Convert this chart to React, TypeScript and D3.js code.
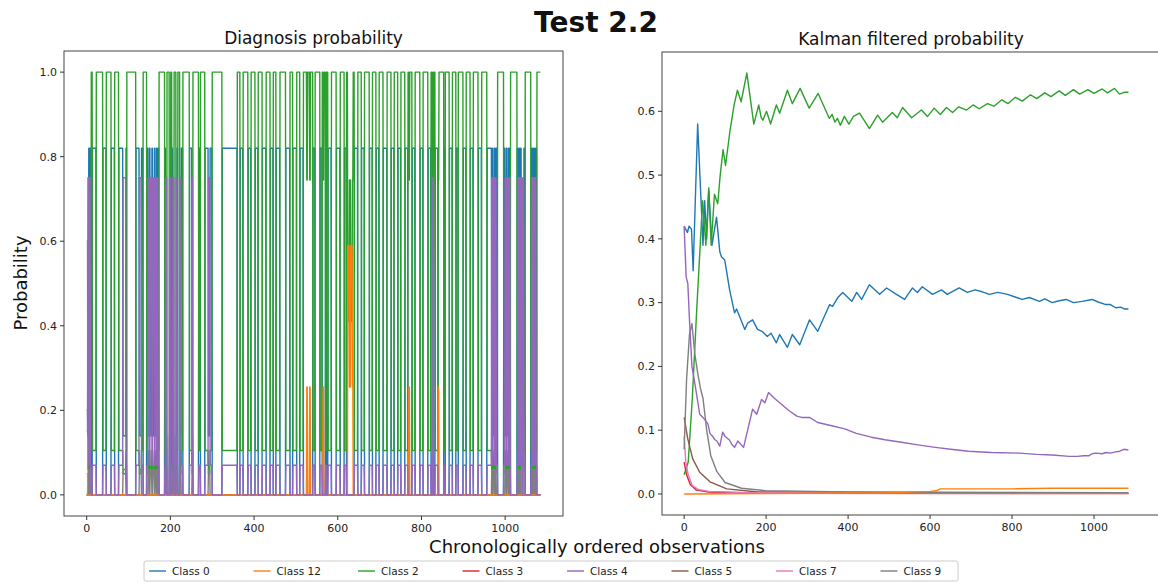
import React from 'react';
import * as d3 from 'd3';

// ---- data ----
const classNames = ['Class 0', 'Class 12', 'Class 2', 'Class 3', 'Class 4', 'Class 5', 'Class 7', 'Class 9'];
const classColors = ['#1f77b4', '#ff7f0e', '#2ca02c', '#d62728', '#9467bd', '#8c564b', '#e377c2', '#7f7f7f'];
// order the lines were plotted in (indices into classNames)
const drawOrder = [0, 2, 3, 5, 6, 7, 1, 4];

const nObs = 1085;

// diagnosis states (probability per class, same order as classNames)
const stateProbs: Record<string, number[]> = {
  G: [0, 0, 1.0, 0, 0, 0, 0, 0],
  B: [0.82, 0, 0.105, 0, 0.07, 0, 0, 0],
  P: [0.14, 0, 0.05, 0, 0.75, 0, 0, 0.06],
  K: [0.2, 0, 0, 0, 0.15, 0, 0.05, 0.6],
  O: [0, 0.255, 0.745, 0, 0, 0, 0, 0],
  E: [0, 0.59, 0.41, 0, 0, 0, 0, 0],
};

// run-length list of diagnosed state: [first observation, state]
const diagRuns: [number, string][] = [
  [0, 'K'], [3, 'P'], [5, 'B'], [7, 'P'], [9, 'B'],
  [11, 'G'], [14, 'B'], [23, 'G'], [39, 'B'], [47, 'G'], [59, 'B'],
  [67, 'G'], [77, 'B'], [87, 'P'], [94, 'B'],
  [96, 'G'], [118, 'B'], [126, 'P'], [131, 'B'],
  [135, 'G'], [144, 'B'], [147, 'P'], [150, 'B'], [152, 'P'], [156, 'B'], [158, 'P'], [162, 'B'], [164, 'P'], [167, 'B'], [169, 'P'], [171, 'B'],
  [173, 'G'], [187, 'B'], [189, 'P'], [192, 'G'], [198, 'P'], [201, 'G'], [204, 'B'], [206, 'P'], [209, 'G'], [214, 'P'], [216, 'B'], [218, 'G'], [223, 'P'], [226, 'B'],
  [230, 'G'], [246, 'B'], [252, 'P'], [254, 'G'], [268, 'B'],
  [272, 'G'], [283, 'B'], [291, 'P'], [295, 'B'],
  [300, 'G'], [324, 'B'],
  [360, 'G'], [367, 'B'], [374, 'G'], [386, 'B'], [393, 'G'], [403, 'B'], [410, 'G'], [420, 'B'],
  [429, 'G'], [439, 'B'], [446, 'G'], [453, 'B'], [462, 'G'], [476, 'B'], [486, 'G'], [493, 'B'],
  [502, 'G'], [510, 'B'],
  [518, 'G'], [526, 'O'], [528, 'G'], [533, 'O'], [535, 'G'], [541, 'B'],
  [546, 'G'], [558, 'B'],
  [563, 'G'], [565, 'O'], [567, 'G'], [571, 'B'], [573, 'G'], [577, 'B'],
  [585, 'G'], [597, 'B'], [606, 'G'], [616, 'B'],
  [621, 'G'], [624, 'E'], [628, 'O'], [631, 'E'], [635, 'O'], [637, 'G'], [640, 'B'],
  [648, 'G'], [657, 'B'], [664, 'G'], [676, 'B'], [683, 'G'], [692, 'B'], [699, 'G'], [709, 'B'],
  [718, 'G'], [728, 'B'], [735, 'G'], [744, 'B'], [751, 'G'], [761, 'B'],
  [768, 'G'], [770, 'O'], [772, 'G'], [778, 'B'],
  [785, 'G'], [797, 'B'], [804, 'G'], [816, 'B'],
  [823, 'G'], [827, 'P'], [829, 'G'], [833, 'B'],
  [840, 'O'], [842, 'G'], [854, 'B'],
  [857, 'G'], [867, 'B'], [874, 'G'], [883, 'B'], [888, 'G'], [900, 'B'], [907, 'G'], [917, 'B'],
  [924, 'G'], [936, 'B'], [944, 'G'], [957, 'B'],
  [968, 'P'], [970, 'B'], [972, 'P'], [975, 'B'], [977, 'P'], [979, 'B'],
  [982, 'G'], [997, 'B'],
  [1000, 'P'], [1003, 'B'], [1005, 'P'], [1008, 'B'], [1010, 'P'], [1012, 'B'],
  [1013, 'G'], [1029, 'B'],
  [1031, 'P'], [1033, 'B'], [1035, 'P'], [1037, 'B'], [1039, 'P'], [1041, 'O'], [1043, 'P'], [1045, 'B'],
  [1048, 'G'], [1062, 'B'],
  [1064, 'P'], [1066, 'B'], [1068, 'P'], [1070, 'B'], [1072, 'P'], [1074, 'B'],
  [1076, 'G'],
];

// Kalman filtered probability, [observation, probability]
const kalmanClass0: [number, number][] = [
  [0, 0.42], [8, 0.41], [12, 0.42], [18, 0.415], [22, 0.35], [33, 0.58], [46, 0.39], [50, 0.46], [55, 0.40], [60, 0.476],
  [68, 0.39], [79, 0.434], [87, 0.38], [91, 0.372], [99, 0.367], [111, 0.32], [123, 0.284], [128, 0.29], [148, 0.258],
  [155, 0.268], [167, 0.273], [179, 0.258], [190, 0.255], [203, 0.247], [212, 0.252], [225, 0.237], [233, 0.25],
  [252, 0.23], [264, 0.25], [282, 0.234], [306, 0.273], [326, 0.255], [355, 0.297], [362, 0.294], [375, 0.308],
  [387, 0.316], [409, 0.302], [421, 0.316], [433, 0.305], [452, 0.328], [477, 0.313], [494, 0.323], [518, 0.313],
  [538, 0.305], [557, 0.323], [569, 0.316], [581, 0.325], [606, 0.313], [628, 0.32], [642, 0.313], [671, 0.323],
  [691, 0.316], [710, 0.32], [727, 0.317], [745, 0.313], [765, 0.316], [789, 0.313], [811, 0.308], [825, 0.305],
  [842, 0.308], [867, 0.302], [880, 0.306], [898, 0.30], [915, 0.303], [932, 0.305], [950, 0.30], [971, 0.302],
  [995, 0.305], [1010, 0.301], [1029, 0.297], [1040, 0.297], [1053, 0.292], [1065, 0.293], [1075, 0.29], [1084, 0.29],
];
const kalmanClass12: [number, number][] = [
  [0, 0.0], [300, 0.001], [500, 0.002], [600, 0.004], [615, 0.005], [625, 0.008], [700, 0.008], [800, 0.008],
  [900, 0.009], [1084, 0.009],
];
const kalmanClass2: [number, number][] = [
  [0, 0.03], [10, 0.05], [20, 0.15], [30, 0.28], [40, 0.40], [45, 0.46], [53, 0.39], [60, 0.48], [66, 0.39], [74, 0.47],
  [82, 0.455], [88, 0.5], [95, 0.54], [101, 0.515], [112, 0.57], [122, 0.61], [130, 0.633], [139, 0.615], [153, 0.66],
  [170, 0.58], [178, 0.60], [182, 0.61], [188, 0.59], [192, 0.586], [201, 0.60], [211, 0.58], [225, 0.61], [233, 0.597],
  [252, 0.633], [264, 0.612], [283, 0.636], [305, 0.605], [327, 0.628], [354, 0.589], [361, 0.595], [368, 0.583],
  [374, 0.589], [381, 0.578], [391, 0.592], [402, 0.580], [413, 0.592], [428, 0.597], [452, 0.573], [472, 0.594],
  [484, 0.583], [508, 0.598], [520, 0.590], [533, 0.606], [555, 0.59], [579, 0.602], [594, 0.592], [610, 0.605],
  [625, 0.595], [640, 0.606], [655, 0.598], [670, 0.607], [689, 0.602], [705, 0.61], [720, 0.604], [740, 0.612],
  [756, 0.608], [775, 0.618], [790, 0.612], [808, 0.622], [825, 0.616], [845, 0.626], [860, 0.62], [880, 0.629],
  [895, 0.623], [915, 0.632], [930, 0.625], [950, 0.634], [965, 0.627], [985, 0.634], [1000, 0.628], [1020, 0.635],
  [1033, 0.629], [1050, 0.636], [1062, 0.627], [1075, 0.63], [1084, 0.63],
];
const kalmanClass3: [number, number][] = [
  [0, 0.05], [6, 0.03], [15, 0.015], [30, 0.006], [60, 0.003], [200, 0.001], [1084, 0.0005],
];
const kalmanClass4: [number, number][] = [
  [0, 0.42], [5, 0.34], [9, 0.33], [14, 0.26], [19, 0.2], [27, 0.17], [38, 0.125], [46, 0.12], [58, 0.11], [63, 0.095],
  [70, 0.09], [75, 0.085], [80, 0.083], [87, 0.075], [94, 0.097], [100, 0.09], [110, 0.085], [116, 0.078], [123, 0.073],
  [131, 0.083], [138, 0.078], [145, 0.073], [155, 0.1], [167, 0.133], [177, 0.125], [189, 0.148], [197, 0.143],
  [206, 0.159], [220, 0.15], [233, 0.143], [257, 0.13], [275, 0.122], [287, 0.12], [306, 0.12], [326, 0.112],
  [360, 0.107], [392, 0.102], [420, 0.095], [457, 0.089], [490, 0.085], [530, 0.081], [570, 0.077], [613, 0.073],
  [650, 0.07], [694, 0.067], [750, 0.065], [818, 0.064], [860, 0.062], [898, 0.061], [940, 0.059], [959, 0.059],
  [975, 0.06], [988, 0.06], [995, 0.063], [1005, 0.064], [1020, 0.063], [1029, 0.065], [1040, 0.064], [1053, 0.066],
  [1063, 0.067], [1073, 0.07], [1084, 0.069],
];
const kalmanClass5: [number, number][] = [
  [0, 0.12], [9, 0.086], [21, 0.055], [38, 0.034], [63, 0.019], [104, 0.008], [180, 0.003], [1084, 0.001],
];
const kalmanClass7: [number, number][] = [
  [0, 0.09], [4, 0.05], [10, 0.03], [20, 0.013], [35, 0.007], [60, 0.004], [150, 0.002], [1084, 0.001],
];
const kalmanClass9: [number, number][] = [
  [0, 0.07], [6, 0.18], [13, 0.25], [19, 0.267], [26, 0.22], [33, 0.19], [40, 0.165], [46, 0.15], [55, 0.1],
  [65, 0.06], [80, 0.035], [100, 0.018], [140, 0.009], [200, 0.005], [400, 0.003], [1084, 0.002],
];

const kalmanSeries = [kalmanClass0, kalmanClass12, kalmanClass2, kalmanClass3, kalmanClass4, kalmanClass5, kalmanClass7, kalmanClass9];

const leftYTicks = [0, 0.2, 0.4, 0.6, 0.8, 1.0];
const rightYTicks = [0, 0.1, 0.2, 0.3, 0.4, 0.5, 0.6];
const xTicks = [0, 200, 400, 600, 800, 1000];

const font = 'DejaVu Sans, sans-serif';

// expand the run list into one value per observation for a class
function diagSeries(classIdx: number): [number, number][] {
  const out: [number, number][] = [];
  let r = 0;
  for (let i = 0; i < nObs; i++) {
    while (r + 1 < diagRuns.length && diagRuns[r + 1][0] <= i) r++;
    out.push([i, stateProbs[diagRuns[r][1]][classIdx]]);
  }
  return out;
}

const Axes = ({ x, y, yTicks, title, id, series }) => {
  const [x0, x1] = x.range();
  const [y1, y0] = y.range();
  const line = d3.line<[number, number]>().x(d => x(d[0])).y(d => y(d[1]));
  return (
    <g>
      <defs>
        <clipPath id={id}>
          <rect x={x0} y={y0} width={x1 - x0} height={y1 - y0} />
        </clipPath>
      </defs>
      <g clipPath={`url(#${id})`}>
        {drawOrder.map(i => (
          <path key={i} d={line(series[i]) || ''} fill="none" stroke={classColors[i]} strokeWidth={1.4} strokeLinejoin="round" />
        ))}
      </g>
      <rect x={x0} y={y0} width={x1 - x0} height={y1 - y0} fill="none" stroke="#444" strokeWidth={1} />
      {yTicks.map(t => (
        <g key={'y' + t}>
          <line x1={x0} x2={x0 - 4} y1={y(t)} y2={y(t)} stroke="#333" />
          <text x={x0 - 7} y={y(t)} dy="0.35em" textAnchor="end" fontSize={11} fontFamily={font} fill="#222">
            {d3.format('.1f')(t)}
          </text>
        </g>
      ))}
      {xTicks.map(t => (
        <g key={'x' + t}>
          <line x1={x(t)} x2={x(t)} y1={y1} y2={y1 + 4} stroke="#333" />
          <text x={x(t)} y={y1 + 16} textAnchor="middle" fontSize={11} fontFamily={font} fill="#222">
            {t}
          </text>
        </g>
      ))}
      <text x={(x0 + x1) / 2} y={y0 - 7} textAnchor="middle" fontSize={17} fontFamily={font} fill="#111">
        {title}
      </text>
    </g>
  );
};

export default function App() {
  const W = 1158;
  const H = 583;
  const last = nObs - 1;

  const xL = d3.scaleLinear().domain([-0.05 * last, 1.05 * last]).range([64, 563]);
  const yL = d3.scaleLinear().domain([-0.05, 1.05]).range([516, 51]);
  const xR = d3.scaleLinear().domain([-54, 1161]).range([662, 1160]);
  const yR = d3.scaleLinear().domain([-0.033, 0.693]).range([515, 52]);

  const diag = classNames.map((_, i) => diagSeries(i));

  const legendX = 144;
  const legendW = 814;
  const colW = 104.5;

  return (
    <svg width={W} height={H} style={{ position: 'absolute', left: 0, top: 0, background: '#fff' }}>
      <rect width={W} height={H} fill="#fff" />
      <text x={596} y={32} textAnchor="middle" fontSize={28} fontWeight="bold" fontFamily={font} fill="#111">
        Test 2.2
      </text>

      <Axes x={xL} y={yL} yTicks={leftYTicks} title="Diagnosis probability" id="clipL" series={diag} />
      <Axes x={xR} y={yR} yTicks={rightYTicks} title="Kalman filtered probability" id="clipR" series={kalmanSeries} />

      <text transform="translate(27,283) rotate(-90)" textAnchor="middle" fontSize={18} fontFamily={font} fill="#111">
        Probability
      </text>
      <text x={597} y={553} textAnchor="middle" fontSize={18} fontFamily={font} fill="#111">
        Chronologically ordered observations
      </text>

      <rect x={legendX} y={561} width={legendW} height={20} rx={2} fill="#fff" stroke="#ccc" />
      {classNames.map((name, i) => {
        const lx = legendX + 5 + i * colW;
        return (
          <g key={name}>
            <line x1={lx} x2={lx + 17} y1={571} y2={571} stroke={classColors[i]} strokeWidth={1.4} />
            <text x={lx + 23} y={574.5} fontSize={10.5} fontFamily={font} fill="#222">
              {name}
            </text>
          </g>
        );
      })}
    </svg>
  );
}
